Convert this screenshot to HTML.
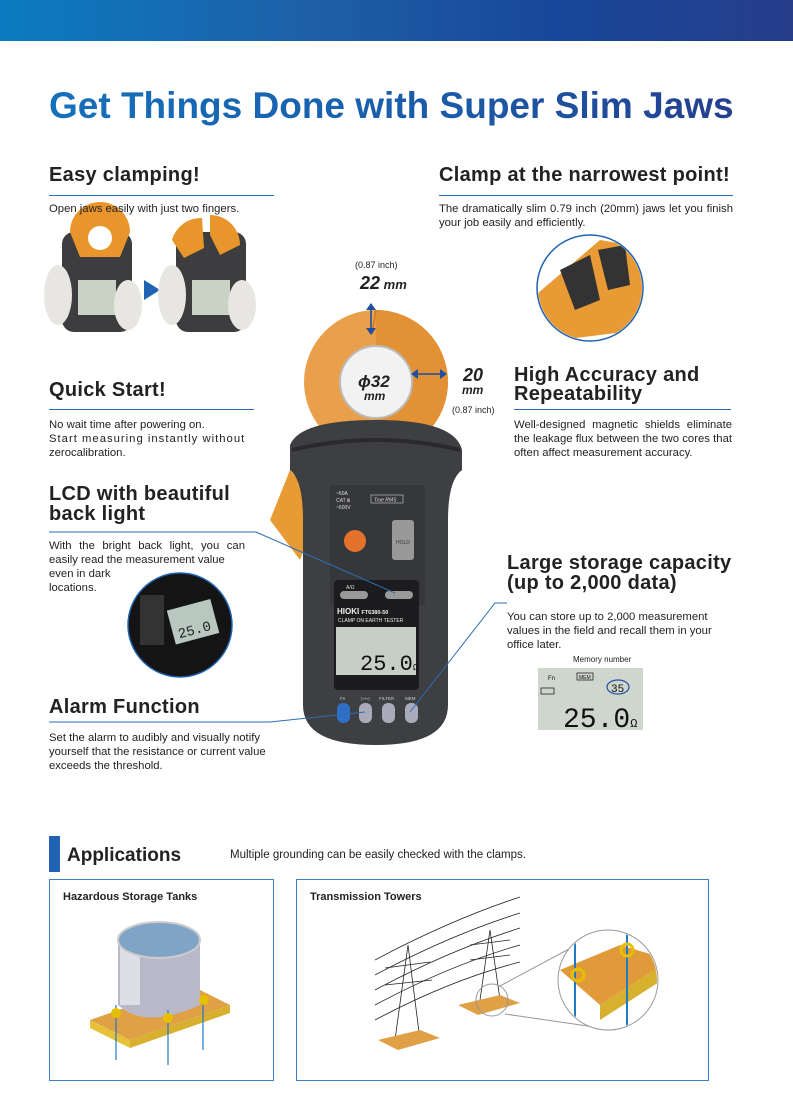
<!DOCTYPE html>
<html><head><meta charset="utf-8"><style>
*{margin:0;padding:0;box-sizing:border-box}
body{width:793px;height:1116px;position:relative;background:#fff;font-family:"Liberation Sans",Arial,sans-serif;color:#222;overflow:hidden}
.a{position:absolute}
.h{font-weight:bold;font-size:20px;color:#222;line-height:20px;letter-spacing:0.3px}
.u{position:absolute;height:1px;background:#2a6db5}
.t{font-size:11.3px;line-height:14px;color:#222}
</style></head><body>
<div class="a" style="left:0;top:0;width:793px;height:41px;background:linear-gradient(90deg,#0b7bc0,#1e5fa8 40%,#17479a 70%,#263d8a)"></div>
<div class="a" style="left:49px;top:85px;font-size:37px;font-weight:bold;letter-spacing:0;white-space:nowrap;background:linear-gradient(90deg,#1570bb,#1a5aa8 60%,#253f8e);-webkit-background-clip:text;background-clip:text;color:transparent">Get Things Done with Super Slim Jaws</div>

<svg class="a" style="left:0;top:0" width="793" height="1116">
<g>
<rect x="62" y="232" width="70" height="100" rx="12" fill="#3d3d40"/>
<path d="M70 232 a30 30 0 0 1 60 0 l-10 25 l-40 0z" fill="#e8962c"/>
<circle cx="100" cy="238" r="12" fill="#fff"/>
<rect x="78" y="280" width="38" height="35" fill="#c9d2c4"/>
<ellipse cx="58" cy="295" rx="14" ry="30" fill="#e8e6e2"/>
<ellipse cx="128" cy="305" rx="14" ry="25" fill="#e8e6e2"/>
<path d="M144 280 l16 10 l-16 10z" fill="#1f63b2"/>
<rect x="176" y="232" width="70" height="100" rx="12" fill="#3d3d40"/>
<path d="M172 240 a30 30 0 0 1 30 -22 l2 30 l-20 10z M210 215 a30 30 0 0 1 30 30 l-20 10 l-10 -20z" fill="#e8962c"/>
<rect x="192" y="280" width="38" height="35" fill="#c9d2c4"/>
<ellipse cx="172" cy="295" rx="14" ry="30" fill="#e8e6e2"/>
<ellipse cx="242" cy="305" rx="14" ry="25" fill="#e8e6e2"/>
</g>
<circle cx="590" cy="288" r="53" fill="#fff" stroke="#1f63b2" stroke-width="1.5"/>
<clipPath id="c1"><circle cx="590" cy="288" r="52"/></clipPath>
<g clip-path="url(#c1)">
<path d="M530 300 L600 240 L660 250 L640 330 L560 340z" fill="#e89a35"/>
<path d="M560 270 L590 255 L600 300 L575 310z" fill="#333"/>
<path d="M598 250 L625 245 L630 285 L608 290z" fill="#333"/>
</g>
<path d="M300 560 L270 520 L290 470 L320 505 Z" fill="#e89a35"/>
<circle cx="376" cy="382" r="72" fill="#eaa04a"/>
<path d="M376 310 a72 72 0 0 1 0 144" fill="#e29135"/>
<line x1="376" y1="310" x2="372" y2="334" stroke="#c97a25" stroke-width="1.5"/>
<circle cx="376" cy="382" r="36" fill="#f2f2f2" stroke="#bbb" stroke-width="2"/>
<path d="M290 445 Q300 420 376 420 Q455 420 462 450 L462 470 Q448 480 448 520 L448 705 Q448 745 376 745 Q303 745 303 705 L303 520 Q303 480 290 470Z" fill="#3e3f42"/>
<path d="M292 450 Q376 430 460 450" stroke="#2a2a2c" stroke-width="4" fill="none"/>
<rect x="330" y="485" width="95" height="120" fill="#36373a"/>
<rect x="392" y="520" width="22" height="40" rx="3" fill="#999"/>
<text x="396" y="544" font-size="5" fill="#333" font-family="Liberation Sans">HOLD</text>
<circle cx="355" cy="541" r="11" fill="#e4722c"/>
<text x="336" y="495" font-size="5" fill="#ddd" font-family="Liberation Sans">~60A</text>
<text x="336" y="502" font-size="5" fill="#ddd" font-family="Liberation Sans">CAT Ⅲ</text>
<text x="336" y="509" font-size="5" fill="#ddd" font-family="Liberation Sans">~600V</text>
<rect x="371" y="495" width="32" height="8" fill="none" stroke="#ccc" stroke-width=".6"/>
<text x="374" y="501.5" font-size="5" fill="#ddd" font-style="italic" font-family="Liberation Sans">True RMS</text>
<rect x="334" y="580" width="85" height="110" rx="4" fill="#1c1c1e"/>
<text x="346" y="589" font-size="5" fill="#ddd" font-family="Liberation Sans">A/Ω</text>
<rect x="340" y="591" width="28" height="8" rx="4" fill="#999"/>
<rect x="385" y="591" width="28" height="8" rx="4" fill="#999"/>
<text x="337" y="614" font-size="8" fill="#eee" font-weight="bold" font-family="Liberation Sans">HIOKI <tspan font-size="5.5">FT6380-50</tspan></text>
<text x="338" y="622" font-size="5" fill="#eee" font-family="Liberation Sans">CLAMP ON EARTH TESTER</text>
<rect x="336" y="627" width="80" height="48" fill="#c7cec6"/>
<text x="360" y="670" font-size="22" fill="#111" font-family="Liberation Mono">25.0<tspan font-size="9">Ω</tspan></text>
<g font-family="Liberation Sans" font-size="4.5" fill="#ccc"><text x="340" y="700">Fn</text><text x="361" y="700">▷•◁</text><text x="379" y="700">FILTER</text><text x="405" y="700">MEM</text></g>
<rect x="337" y="703" width="13" height="20" rx="6" fill="#2f6fc6"/>
<rect x="359" y="703" width="13" height="20" rx="6" fill="#aab"/>
<rect x="382" y="703" width="13" height="20" rx="6" fill="#aab"/>
<rect x="405" y="703" width="13" height="20" rx="6" fill="#aab"/>
<g stroke="#1f4fa3" stroke-width="1.6" fill="#1f4fa3">
<line x1="371" y1="305" x2="371" y2="333"/>
<path d="M366 310 l5 -7 l5 7z M366 328 l5 7 l5 -7z" stroke="none"/>
<line x1="413" y1="374" x2="444" y2="374"/>
<path d="M418 369 l-7 5 l7 5z M440 369 l7 5 l-7 5z" stroke="none"/>
</g>
<g font-family="Liberation Sans" fill="#222">
<text x="355" y="268" font-size="9">(0.87 inch)</text>
<text x="360" y="289" font-size="18" font-weight="bold" font-style="italic">22<tspan font-size="13"> mm</tspan></text>
<text x="358" y="387" font-size="17" font-weight="bold" font-style="italic">ϕ32</text>
<text x="364" y="400" font-size="12" font-weight="bold" font-style="italic">mm</text>
<text x="463" y="381" font-size="18" font-weight="bold" font-style="italic">20</text>
<text x="462" y="394" font-size="12" font-weight="bold" font-style="italic">mm</text>
<text x="452" y="413" font-size="9">(0.87 inch)</text>
</g>
<g stroke="#2a6db5" stroke-width="1" fill="none">
<polyline points="49,532 256,532 395,593"/>
<polyline points="49,722 270,722 365,712"/>
<polyline points="507,603 495,603 410,712"/>
</g>
<circle cx="180" cy="625" r="52" fill="#141414" stroke="#1f63b2" stroke-width="1.5"/>
<rect x="170" y="605" width="45" height="35" fill="#b8c8c0" transform="rotate(-15 190 620)"/>
<text x="175" y="635" font-size="14" fill="#222" font-family="Liberation Mono" transform="rotate(-15 190 620)">25.0</text>
<rect x="140" y="595" width="24" height="50" fill="#333"/>
<rect x="538" y="668" width="105" height="62" fill="#cfd6cd"/>
<text x="548" y="680" font-size="6" font-family="Liberation Sans" fill="#111">Fn</text>
<rect x="577" y="673" width="16" height="7" fill="none" stroke="#111" stroke-width=".7"/>
<text x="579" y="679" font-size="5" fill="#111" font-family="Liberation Sans">MEM</text>
<ellipse cx="618" cy="687" rx="11" ry="7" fill="none" stroke="#1f4fa3" stroke-width="1.2"/>
<text x="611" y="692" font-size="11" fill="#111" font-family="Liberation Mono">35</text>
<rect x="541" y="688" width="13" height="6" fill="none" stroke="#111" stroke-width=".7"/>
<text x="563" y="727" font-size="28" fill="#111" font-family="Liberation Mono">25.0<tspan font-size="12">Ω</tspan></text>
<rect x="49" y="836" width="11" height="36" fill="#1f63b2"/>
<rect x="49.5" y="879.5" width="224" height="201" fill="none" stroke="#3f7fc4"/>
<rect x="296.5" y="879.5" width="412" height="201" fill="none" stroke="#3f7fc4"/>
<path d="M90 1020 L190 985 L230 1005 L130 1040Z" fill="#e0a045"/>
<path d="M90 1020 L130 1040 L130 1048 L90 1028Z" fill="#e6c23a"/>
<path d="M130 1040 L230 1005 L230 1013 L130 1048Z" fill="#d8b030"/>
<path d="M118 940 L118 1005 Q145 1030 200 1005 L200 940Z" fill="#b8b8c8"/>
<rect x="120" y="945" width="20" height="60" fill="#eeeef4" opacity=".7"/>
<ellipse cx="159" cy="940" rx="41" ry="18" fill="#7fa4c6" stroke="#ccc" stroke-width="2"/>
<g stroke="#1f7ac6" stroke-width="1.2"><line x1="116" y1="1005" x2="116" y2="1060"/><line x1="168" y1="1010" x2="168" y2="1065"/><line x1="203" y1="1000" x2="203" y2="1050"/></g>
<g fill="#e6c000"><circle cx="116" cy="1013" r="5"/><circle cx="168" cy="1018" r="5"/><circle cx="204" cy="1000" r="5"/></g>
<g stroke="#222" stroke-width=".8" fill="none">
<path d="M375 960 Q450 920 520 897"/><path d="M375 975 Q450 935 520 913"/><path d="M375 990 Q450 950 520 928"/><path d="M375 1005 Q450 965 520 945"/><path d="M375 1020 Q450 980 520 962"/>
<path d="M395 1040 L408 945 L420 1040Z M480 1000 L490 930 L500 1000Z"/>
<path d="M385 968 L430 962 M385 985 L432 980 M470 945 L510 940 M470 960 L510 955"/>
</g>
<path d="M378 1040 L420 1030 L440 1038 L398 1050Z" fill="#e0a045"/>
<path d="M458 1005 L500 995 L520 1003 L478 1015Z" fill="#e0a045"/>
<circle cx="492" cy="1000" r="16" fill="none" stroke="#999"/>
<line x1="500" y1="986" x2="595" y2="935" stroke="#999"/><line x1="505" y1="1014" x2="615" y2="1030" stroke="#999"/>
<circle cx="608" cy="980" r="50" fill="#fff" stroke="#999"/>
<clipPath id="c2"><circle cx="608" cy="980" r="49"/></clipPath>
<g clip-path="url(#c2)">
<path d="M560 970 L620 945 L670 960 L600 1005Z" fill="#e09a3a"/>
<path d="M600 1005 L670 960 L670 975 L600 1020Z" fill="#d8b030"/>
<g stroke="#1f7ac6" stroke-width="2"><line x1="575" y1="940" x2="575" y2="1030"/><line x1="627" y1="930" x2="627" y2="1030"/></g>
<circle cx="578" cy="975" r="6" fill="none" stroke="#e6c000" stroke-width="3"/>
<circle cx="627" cy="950" r="6" fill="none" stroke="#e6c000" stroke-width="3"/>
</g>
</svg>

<div class="a h" style="left:49px;top:165px">Easy clamping!</div><div class="u" style="left:49px;top:195px;width:225px"></div>
<div class="a t" style="left:49px;top:202px">Open jaws easily with just two fingers.</div>
<div class="a h" style="left:439px;top:165px">Clamp at the narrowest point!</div><div class="u" style="left:439px;top:195px;width:294px"></div>
<div class="a t" style="left:439px;top:202px;width:294px;text-align:justify">The dramatically slim 0.79 inch (20mm) jaws let you finish your job easily and efficiently.</div>
<div class="a h" style="left:49px;top:380px">Quick Start!</div><div class="u" style="left:49px;top:409px;width:205px"></div>
<div class="a t" style="left:49px;top:418px;width:206px">No wait time after powering on.<br><span style="letter-spacing:1px">Start measuring instantly without</span><br>zerocalibration.</div>
<div class="a h" style="left:514px;top:366px;line-height:19px">High Accuracy and<br>Repeatability</div><div class="u" style="left:514px;top:409px;width:217px"></div>
<div class="a t" style="left:514px;top:418px;width:218px;text-align:justify">Well-designed magnetic shields eliminate the leakage flux between the two cores that often affect measurement accuracy.</div>
<div class="a h" style="left:49px;top:484px;line-height:20px">LCD with beautiful<br>back light</div>
<div class="a t" style="left:49px;top:539px;width:196px;text-align:justify">With the bright back light, you can easily read the measurement value<br>even in dark<br>locations.</div>
<div class="a h" style="left:507px;top:553px;line-height:20px">Large storage capacity<br>(up to 2,000 data)</div>
<div class="a t" style="left:507px;top:610px;width:225px">You can store up to 2,000 measurement values in the field and recall them in your office later.</div>
<div class="a" style="left:573px;top:655px;font-size:8px">Memory number</div>
<div class="a h" style="left:49px;top:697px">Alarm Function</div>
<div class="a t" style="left:49px;top:731px;width:240px">Set the alarm to audibly and visually notify yourself that the resistance or current value exceeds the threshold.</div>
<div class="a" style="left:67px;top:845px;font-size:19px;font-weight:bold">Applications</div>
<div class="a" style="left:230px;top:849px;font-size:11.5px">Multiple grounding can be easily checked with the clamps.</div>
<div class="a" style="left:63px;top:891px;font-size:11px;font-weight:bold">Hazardous Storage Tanks</div>
<div class="a" style="left:310px;top:891px;font-size:11px;font-weight:bold">Transmission Towers</div>
</body></html>
